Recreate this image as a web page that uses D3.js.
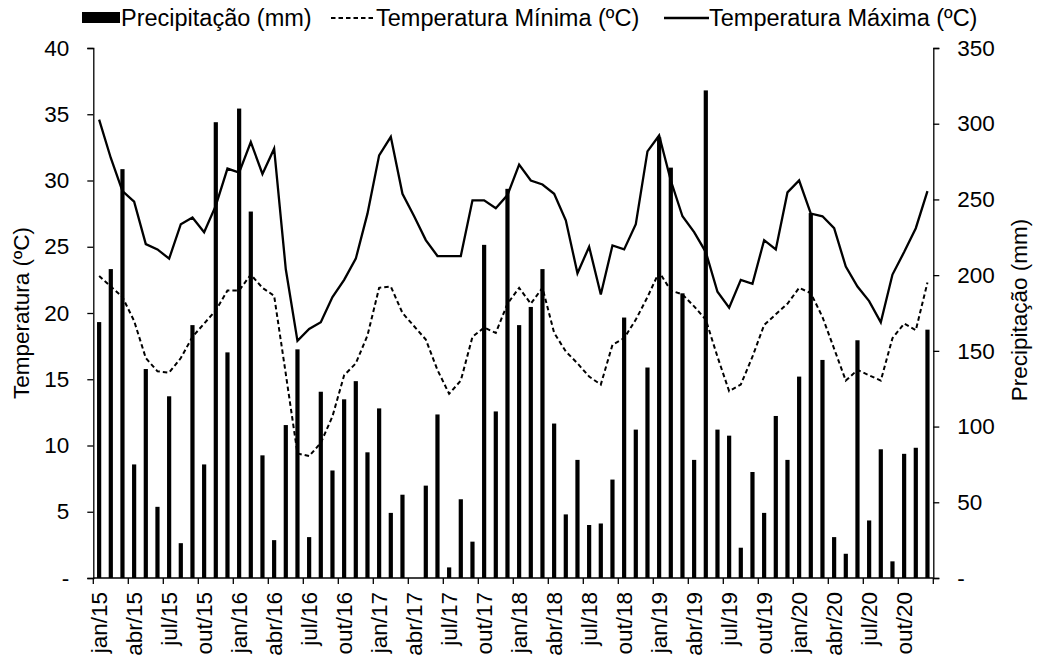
<!DOCTYPE html>
<html>
<head>
<meta charset="utf-8">
<script src="https://cdn.jsdelivr.net/npm/d3@7"></script>
<style>
  html, body { margin: 0; padding: 0; background: #fff; }
  svg { display: block; }
  text { font-family: "Liberation Sans", Arial, sans-serif; fill: #000; }
</style>
</head>
<body>
<svg id="chart" width="1037" height="657"></svg>
<script>
// Monthly series, jan/2015 – dez/2020
const monthNames = ["jan","fev","mar","abr","mai","jun","jul","ago","set","out","nov","dez"];
const years = ["15","16","17","18","19","20"];
const months = years.flatMap(y => monthNames.map(m => m + "/" + y));

// Precipitação (mm)
const precipitation = [
  169,204,270,75,138,47,120,23,167,75,301,149,
  310,242,81,25,101,151,27,123,71,118,130,83,
  112,43,55,0,61,108,7,52,24,220,110,257,
  167,179,204,102,42,78,35,36,65,172,98,139,
  291,271,188,78,322,98,94,20,70,43,107,78,
  133,241,144,27,16,157,38,85,11,82,86,164
];

// Temperatura Mínima (ºC)
const tempMin = [
  22.8,22.0,21.2,19.4,16.6,15.6,15.5,16.6,18.2,19.2,20.2,21.7,
  21.7,22.9,21.9,21.3,15.4,9.4,9.2,10.2,12.2,15.3,16.2,18.3,
  21.9,22.0,20.0,19.0,18.0,15.7,13.9,14.9,18.2,18.9,18.5,20.7,
  21.9,20.7,21.9,18.5,17.1,16.2,15.2,14.6,17.6,18.1,19.5,21.2,
  23.1,21.7,21.4,20.5,19.5,16.7,14.1,14.6,16.7,19.1,19.9,20.7,
  21.9,21.5,19.7,17.3,14.9,15.7,15.3,14.9,18.1,19.2,18.7,22.3
];

// Temperatura Máxima (ºC)
const tempMax = [
  34.6,31.7,29.2,28.4,25.2,24.8,24.1,26.7,27.2,26.1,28.1,30.9,
  30.6,32.9,30.5,32.4,23.3,17.9,18.8,19.3,21.2,22.5,24.1,27.5,
  31.9,33.3,29.0,27.3,25.5,24.3,24.3,24.3,28.5,28.5,27.9,28.9,
  31.2,30.0,29.7,29.0,27.0,23.0,25.0,21.4,25.1,24.8,26.7,32.2,
  33.4,30.0,27.3,26.1,24.6,21.6,20.4,22.5,22.2,25.5,24.8,29.1,
  30.0,27.5,27.3,26.4,23.5,22.0,20.9,19.3,22.9,24.6,26.4,29.2
];

const tempTicks = [0,5,10,15,20,25,30,35,40];
const precTicks = [0,50,100,150,200,250,300,350];
const labelMonths = ["jan","abr","jul","out"];

const legendItems = ["Precipitação (mm)", "Temperatura Mínima (ºC)", "Temperatura Máxima (ºC)"];

(function draw() {
  const svg = d3.select("#chart");
  const mLeft = 93.3, mRight = 933.3, mTop = 48, mBottom = 578;
  const FS = 22.5;

  const x = d3.scaleBand().domain(months).range([mLeft, mRight]).padding(0);
  const yT = d3.scaleLinear().domain([0, 40]).range([mBottom, mTop]);
  const yP = d3.scaleLinear().domain([0, 350]).range([mBottom, mTop]);

  const fmtZero = d => d === 0 ? "-" : d;

  // Left axis (temperature)
  const gL = svg.append("g").attr("transform", `translate(${mLeft},0)`)
    .call(d3.axisLeft(yT).tickValues(tempTicks).tickSize(6).tickPadding(18).tickFormat(fmtZero));
  // Right axis (precipitation)
  const gR = svg.append("g").attr("transform", `translate(${mRight},0)`)
    .call(d3.axisRight(yP).tickValues(precTicks).tickSize(6).tickPadding(18).tickFormat(fmtZero));
  [gL, gR].forEach(g => {
    g.selectAll("path.domain").attr("stroke", "#000").attr("stroke-width", 1.3);
    g.selectAll(".tick line").attr("stroke", "#000").attr("stroke-width", 1.3);
    g.selectAll(".tick text").style("font-size", FS + "px").attr("fill", "#000");
  });

  // Bottom axis: line, quarterly ticks on band edges, labels at band centres
  const gB = svg.append("g");
  gB.append("line").attr("x1", mLeft).attr("x2", mRight).attr("y1", mBottom).attr("y2", mBottom)
    .attr("stroke", "#000").attr("stroke-width", 1.3);
  const quarterEdges = months.filter((m, i) => i % 3 === 0);
  gB.selectAll("line.qt").data(quarterEdges).join("line").attr("class", "qt")
    .attr("x1", d => x(d)).attr("x2", d => x(d))
    .attr("y1", mBottom).attr("y2", mBottom + 6)
    .attr("stroke", "#000").attr("stroke-width", 1.3);
  gB.append("line").attr("x1", mRight).attr("x2", mRight).attr("y1", mBottom).attr("y2", mBottom + 6)
    .attr("stroke", "#000").attr("stroke-width", 1.3);
  gB.selectAll("text.ml").data(months.filter(m => labelMonths.includes(m.split("/")[0])))
    .join("text").attr("class", "ml")
    .attr("transform", d => `translate(${x(d) + x.bandwidth() / 2},592) rotate(-90)`)
    .attr("text-anchor", "end").attr("dy", "0.36em")
    .style("font-size", FS + "px").text(d => d);

  // Precipitation bars
  const barW = 4.2;
  svg.append("g").selectAll("rect").data(precipitation).join("rect")
    .attr("x", (d, i) => x(months[i]) + x.bandwidth() / 2 - barW / 2)
    .attr("width", barW)
    .attr("y", d => yP(d))
    .attr("height", d => yP(0) - yP(d))
    .attr("fill", "#000");

  // Temperature lines
  const cx = (d, i) => x(months[i]) + x.bandwidth() / 2;
  svg.append("path").datum(tempMin)
    .attr("d", d3.line().x(cx).y(d => yT(d)))
    .attr("fill", "none").attr("stroke", "#000").attr("stroke-width", 2)
    .attr("stroke-dasharray", "4.5,3");
  svg.append("path").datum(tempMax)
    .attr("d", d3.line().x(cx).y(d => yT(d)))
    .attr("fill", "none").attr("stroke", "#000").attr("stroke-width", 2.3);

  // Axis titles
  svg.append("text").attr("transform", `translate(29,${(mTop + mBottom) / 2}) rotate(-90)`)
    .attr("text-anchor", "middle").style("font-size", FS + "px").text("Temperatura (ºC)");
  svg.append("text").attr("transform", `translate(1027,${(mTop + mBottom) / 2 - 3}) rotate(-90)`)
    .attr("text-anchor", "middle").style("font-size", FS + "px").text("Precipitação (mm)");

  // Legend
  const lg = svg.append("g");
  const LY = 18, LFS = "23.5px";
  lg.append("rect").attr("x", 82).attr("y", LY - 6).attr("width", 38).attr("height", 11).attr("fill", "#000");
  lg.append("text").attr("x", 121).attr("y", LY).attr("dy", "0.36em").style("font-size", LFS).text(legendItems[0]);
  lg.append("line").attr("x1", 331).attr("x2", 376).attr("y1", LY).attr("y2", LY)
    .attr("stroke", "#000").attr("stroke-width", 2).attr("stroke-dasharray", "4.5,3");
  lg.append("text").attr("x", 376).attr("y", LY).attr("dy", "0.36em").style("font-size", LFS).text(legendItems[1]);
  lg.append("line").attr("x1", 664).attr("x2", 709).attr("y1", LY).attr("y2", LY)
    .attr("stroke", "#000").attr("stroke-width", 2.3);
  lg.append("text").attr("x", 709).attr("y", LY).attr("dy", "0.36em").style("font-size", LFS).text(legendItems[2]);
})();
</script>
</body>
</html>
